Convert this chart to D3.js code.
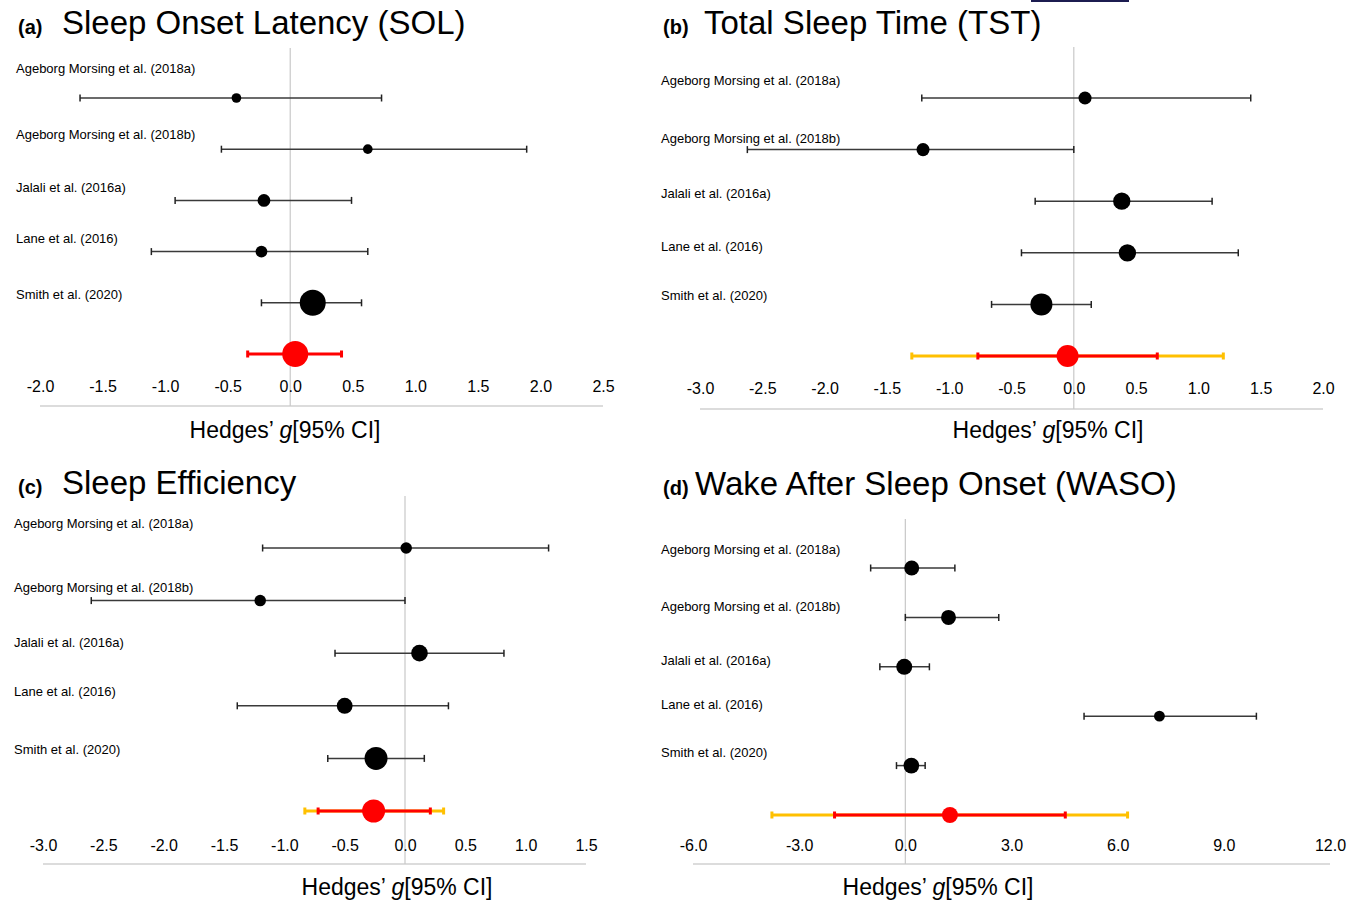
<!DOCTYPE html>
<html><head><meta charset="utf-8">
<script src="https://cdn.jsdelivr.net/npm/d3@7"></script>
<style>body{margin:0;background:#fff} svg{display:block} text{font-family:"Liberation Sans",Arial,sans-serif;fill:#000}</style>
</head><body><svg id="chart" width="1360" height="900"></svg>
<script>
const studies = ["Ageborg Morsing et al. (2018a)", "Ageborg Morsing et al. (2018b)", "Jalali et al. (2016a)", "Lane et al. (2016)", "Smith et al. (2020)"];

// (a) Sleep Onset Latency
const solG  = [-0.43, 0.62, -0.21, -0.23, 0.18];
const solLo = [-1.68, -0.55, -0.92, -1.11, -0.23];
const solHi = [0.73, 1.89, 0.49, 0.62, 0.57];
const solW  = [8, 8, 14, 12, 58];
const solPooled = [0.04, -0.34, 0.41];
const solPI = null;
const solTicks = [-2.0, -1.5, -1.0, -0.5, 0.0, 0.5, 1.0, 1.5, 2.0, 2.5];

// (b) Total Sleep Time
const tstG  = [0.09, -1.21, 0.385, 0.43, -0.26];
const tstLo = [-1.22, -2.62, -0.31, -0.42, -0.66];
const tstHi = [1.42, 0.0, 1.11, 1.32, 0.14];
const tstW  = [12, 12, 21, 21, 34];
const tstPooled = [-0.05, -0.77, 0.67];
const tstPI = [-1.30, 1.20];
const tstTicks = [-3.0, -2.5, -2.0, -1.5, -1.0, -0.5, 0.0, 0.5, 1.0, 1.5, 2.0];

// (c) Sleep Efficiency
const seG  = [0.01, -1.20, 0.12, -0.50, -0.24];
const seLo = [-1.18, -2.60, -0.58, -1.39, -0.64];
const seHi = [1.19, 0.0, 0.82, 0.36, 0.16];
const seW  = [10, 10, 21, 19, 40];
const sePooled = [-0.26, -0.72, 0.21];
const sePI = [-0.83, 0.32];
const seTicks = [-3.0, -2.5, -2.0, -1.5, -1.0, -0.5, 0.0, 0.5, 1.0, 1.5];

// (d) Wake After Sleep Onset
const wasoG  = [0.18, 1.22, -0.03, 7.18, 0.17];
const wasoLo = [-0.98, 0.0, -0.72, 5.05, -0.25];
const wasoHi = [1.40, 2.64, 0.68, 9.92, 0.56];
const wasoW  = [21, 21, 24, 11, 23];
const wasoPooled = [1.26, -2.0, 4.52];
const wasoPI = [-3.77, 6.28];
const wasoTicks = [-6.0, -3.0, 0.0, 3.0, 6.0, 9.0, 12.0];

const panels = [
  {tag:"(a)", title:"Sleep Onset Latency (SOL)", g:solG, lo:solLo, hi:solHi, w:solW, pooled:solPooled, pi:solPI, ticks:solTicks,
   range:[40,603], tagX:18, titleX:62, titleY:34, labelX:16, labelY:[73,139,192,243,299], rows:[98,354], zeroTop:48, axisY:406, tickY:392, xlabX:285, xlabY:438, rMax:13},
  {tag:"(b)", title:"Total Sleep Time (TST)", g:tstG, lo:tstLo, hi:tstHi, w:tstW, pooled:tstPooled, pi:tstPI, ticks:tstTicks,
   range:[700,1323], tagX:663, titleX:704, titleY:34, labelX:661, labelY:[85,143,198,251,300], rows:[98,356], zeroTop:47, axisY:409, tickY:394, xlabX:1048, xlabY:438, rMax:11},
  {tag:"(c)", title:"Sleep Efficiency", g:seG, lo:seLo, hi:seHi, w:seW, pooled:sePooled, pi:sePI, ticks:seTicks,
   range:[43,586], tagX:18, titleX:62, titleY:494, labelX:14, labelY:[528,592,647,696,754], rows:[548,811], zeroTop:496, axisY:864, tickY:851, xlabX:397, xlabY:895, rMax:11.5},
  {tag:"(d)", title:"Wake After Sleep Onset (WASO)", g:wasoG, lo:wasoLo, hi:wasoHi, w:wasoW, pooled:wasoPooled, pi:wasoPI, ticks:wasoTicks,
   range:[693,1330], tagX:663, titleX:695, titleY:495, labelX:661, labelY:[554,611,665,709,757], rows:[568,815], zeroTop:519, axisY:864, tickY:851, xlabX:938, xlabY:895, rMax:8}
];

const svg = d3.select("#chart");
svg.append("rect").attr("width",1360).attr("height",900).attr("fill","#fff");
// small dark mark at top edge
svg.append("rect").attr("x",1031).attr("y",0).attr("width",98).attr("height",2).attr("fill","#1c1c50");

const fmt = v => d3.format(".1f")(v).replace("\u2212","-");

panels.forEach(p => {
  const g = svg.append("g");
  const x = d3.scaleLinear().domain([p.ticks[0], p.ticks[p.ticks.length-1]]).range(p.range);
  const rowKeys = studies.concat(["pooled"]);
  const y = d3.scalePoint().domain(rowKeys).range(p.rows);
  const r = d3.scaleSqrt().domain([0, d3.max(p.w)]).range([0, p.rMax]);

  // title
  g.append("text").attr("x",p.tagX).attr("y",p.titleY).attr("font-size",20).attr("font-weight","bold").text(p.tag);
  g.append("text").attr("x",p.titleX).attr("y",p.titleY).attr("font-size",33).text(p.title);

  // axis line & zero line
  g.append("line").attr("x1",x(p.ticks[0])).attr("x2",x(p.ticks[p.ticks.length-1]))
    .attr("y1",p.axisY).attr("y2",p.axisY).attr("stroke","#d0d0d0").attr("stroke-width",1.5);
  g.append("line").attr("x1",x(0)).attr("x2",x(0)).attr("y1",p.zeroTop).attr("y2",p.axisY)
    .attr("stroke","#c8c8c8").attr("stroke-width",1.2);

  // tick labels via d3 axis
  const ax = g.append("g").attr("transform",`translate(0,${p.tickY - 11.36})`)
    .call(d3.axisBottom(x).tickValues(p.ticks).tickSize(0).tickPadding(0).tickFormat(fmt));
  ax.select(".domain").remove();
  ax.selectAll("text").attr("font-size",16).attr("font-family",'"Liberation Sans",Arial,sans-serif').attr("fill","#000");

  // x label
  const xl = g.append("text").attr("x",p.xlabX).attr("y",p.xlabY).attr("font-size",23).attr("text-anchor","middle");
  xl.append("tspan").text("Hedges\u2019 ");
  xl.append("tspan").attr("font-style","italic").text("g");
  xl.append("tspan").text("[95% CI]");

  // study labels
  studies.forEach((s,i) => {
    g.append("text").attr("x",p.labelX).attr("y",p.labelY[i]).attr("font-size",13).text(s);
  });

  // study CIs and points
  const data = studies.map((s,i) => ({s, g:p.g[i], lo:p.lo[i], hi:p.hi[i], w:p.w[i]}));
  const cap = 3.5;
  data.forEach(d => {
    const yy = y(d.s);
    g.append("line").attr("x1",x(d.lo)).attr("x2",x(d.hi)).attr("y1",yy).attr("y2",yy).attr("stroke","#3a3a3a").attr("stroke-width",1.5);
    [d.lo, d.hi].forEach(v => g.append("line").attr("x1",x(v)).attr("x2",x(v)).attr("y1",yy-cap).attr("y2",yy+cap).attr("stroke","#222").attr("stroke-width",1.5));
    g.append("circle").attr("cx",x(d.g)).attr("cy",yy).attr("r",r(d.w)).attr("fill","#000");
  });

  // pooled
  const py = y("pooled");
  if (p.pi) {
    g.append("line").attr("x1",x(p.pi[0])).attr("x2",x(p.pi[1])).attr("y1",py).attr("y2",py).attr("stroke","#ffc000").attr("stroke-width",3);
    p.pi.forEach(v => g.append("rect").attr("x",x(v)-1.5).attr("y",py-3.5).attr("width",3).attr("height",7).attr("fill","#ffc000"));
  }
  g.append("line").attr("x1",x(p.pooled[1])).attr("x2",x(p.pooled[2])).attr("y1",py).attr("y2",py).attr("stroke","#ff0000").attr("stroke-width",3);
  [p.pooled[1], p.pooled[2]].forEach(v => g.append("rect").attr("x",x(v)-1.5).attr("y",py-3.5).attr("width",3).attr("height",7).attr("fill","#ff0000"));
  g.append("circle").attr("cx",x(p.pooled[0])).attr("cy",py).attr("r",p.rMax).attr("fill","#ff0000");
});
</script>
</body></html>
